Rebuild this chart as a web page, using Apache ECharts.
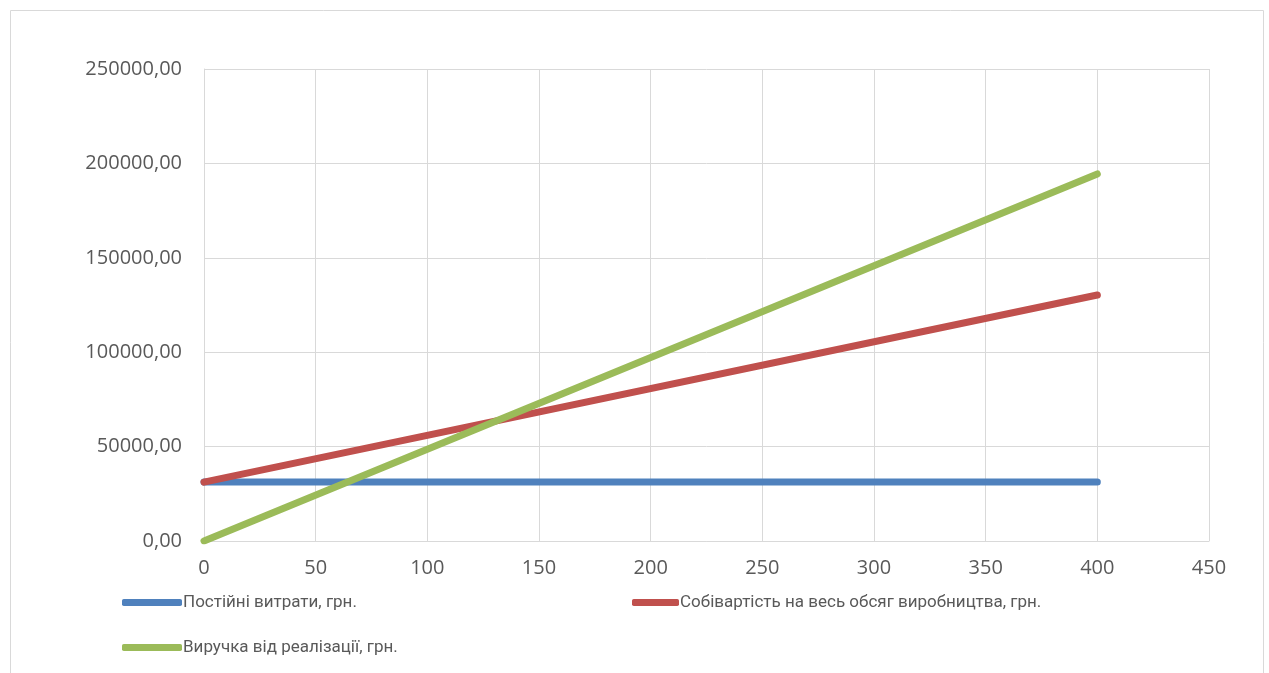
<!DOCTYPE html>
<html><head><meta charset="utf-8">
<script src="https://cdn.jsdelivr.net/npm/echarts@6/dist/echarts.min.js"></script>
<style>html,body{margin:0;padding:0;background:#fff;}#c{width:1269px;height:673px;}</style>
</head><body><div id="c"></div>
<script>
const xValues = [0, 400];
const fixedCosts = [31200, 31200];
const totalCost = [31200, 130300];
const revenue = [0, 194400];
const seriesNames = ['Постійні витрати, грн.', 'Собівартість на весь обсяг виробництва, грн.', 'Виручка від реалізації, грн.'];
const colors = ['#4f81bd', '#c0504d', '#9bbb59'];
const xTicks = {min: 0, max: 450, interval: 50};
const yTicks = {min: 0, max: 250000, interval: 50000};

const font = '"Open Sans", "Liberation Sans", sans-serif';
const legendFont = 'Roboto, "Open Sans", sans-serif';
const chart = echarts.init(document.getElementById('c'));
const pair = (xs, ys) => xs.map((x, i) => [x, ys[i]]);
const allData = [fixedCosts, totalCost, revenue];
const legendPos = [{left: 117, top: 589, w: 60}, {left: 627, top: 589, w: 47}, {left: 117, top: 634, w: 60}];
chart.setOption({
  animation: false,
  graphic: [{type: 'rect', shape: {x: 10.5, y: 10.5, width: 1253, height: 700}, style: {fill: 'none', stroke: '#d9d9d9', lineWidth: 1}, silent: true}],
  grid: {left: 204, right: 60, top: 69, bottom: 132},
  legend: seriesNames.map((n, i) => ({
    data: [n], left: legendPos[i].left, top: legendPos[i].top,
    icon: 'roundRect', itemWidth: legendPos[i].w, itemHeight: 7, itemGap: 0,
    textStyle: {fontFamily: legendFont, fontSize: 17, color: '#595959', padding: [0, 0, 0, -4]}
  })),
  xAxis: {
    type: 'value', min: xTicks.min, max: xTicks.max, interval: xTicks.interval,
    axisLine: {show: true, lineStyle: {color: '#d9d9d9'}}, axisTick: {show: false},
    splitLine: {show: true, lineStyle: {color: '#d9d9d9', width: 1}},
    axisLabel: {fontFamily: font, fontSize: 20, color: '#595959', margin: 17}
  },
  yAxis: {
    type: 'value', min: yTicks.min, max: yTicks.max, interval: yTicks.interval,
    axisLine: {show: true, lineStyle: {color: '#d9d9d9'}}, axisTick: {show: false},
    splitLine: {show: true, lineStyle: {color: '#d9d9d9', width: 1}},
    axisLabel: {fontFamily: font, fontSize: 20, color: '#595959', margin: 22,
      formatter: v => v.toFixed(2).replace('.', ',')}
  },
  series: seriesNames.map((n, i) => ({
    name: n, type: 'line', data: pair(xValues, allData[i]), showSymbol: false, symbol: 'none',
    lineStyle: {color: colors[i], width: 7, cap: 'round'}, itemStyle: {color: colors[i]}
  }))
});
</script></body></html>
